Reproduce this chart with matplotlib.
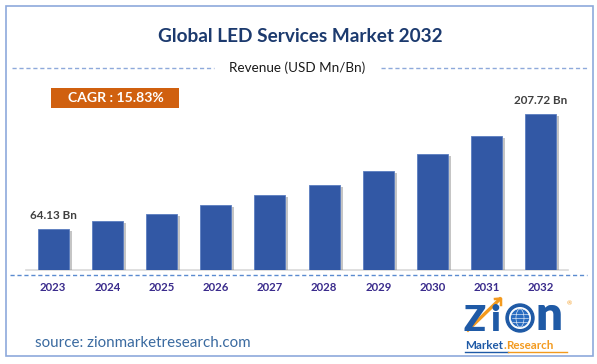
import matplotlib
matplotlib.use("Agg")
import matplotlib.pyplot as plt
import matplotlib.patheffects as pe
from matplotlib.patches import Rectangle, Ellipse
from matplotlib.lines import Line2D
from matplotlib.text import Annotation

# ---- data ----
years = ["2023", "2024", "2025", "2026", "2027", "2028", "2029", "2030", "2031", "2032"]
revenue = [64.13, 73.4, 82.1, 93.3, 105.8, 118.2, 136.2, 157.4, 179.9, 207.72]
first_label = "64.13 Bn"
last_label = "207.72 Bn"
title = "Global LED Services Market 2032"
subtitle = "Revenue (USD Mn/Bn)"
cagr_text = "CAGR : 15.83%"
source_text = "source: zionmarketresearch.com"

W, H = 597, 364
plt.rcParams['font.family'] = ['Lato', 'DejaVu Sans']

fig = plt.figure(figsize=(W / 100, H / 100), dpi=100)
fig.patch.set_facecolor("white")


def fx(x):
    return x / W


def fy(y):
    return 1 - y / H


# outer border
fig.add_artist(Rectangle((fx(6), fy(356)), fx(593) - fx(6), fy(6) - fy(356),
                         transform=fig.transFigure, fill=False,
                         edgecolor="#8EA9DB", linewidth=1.2))

# title / subtitle
fig.text(fx(300), fy(37), title, ha="center", va="center", fontsize=13.7,
         fontweight="bold", color="#1C3A6E")
fig.text(fx(297), fy(68), subtitle, ha="center", va="center", fontsize=9.7,
         color="#1a1a1a")
dash_kw = dict(transform=fig.transFigure, color="#8EA9DB", linewidth=1,
               linestyle=(0, (3, 2)))
fig.add_artist(Line2D([fx(12), fx(214)], [fy(68), fy(68)], **dash_kw))
fig.add_artist(Line2D([fx(381), fx(588)], [fy(68), fy(68)], **dash_kw))

# CAGR box
fig.add_artist(Rectangle((fx(51), fy(108)), fx(179) - fx(51), fy(88) - fy(108),
                         transform=fig.transFigure, facecolor="#D0600F",
                         edgecolor="none"))
fig.text(fx(116), fy(98.5), cagr_text, ha="center", va="center", fontsize=10.1,
         fontweight="bold", color="white")

# axes with bars
y_bottom = 12.56
units_per_px = 1.2486
ax_top_px, ax_bot_px = 100, 270
ax = fig.add_axes([fx(26), fy(ax_bot_px), fx(568) - fx(26), fy(ax_top_px) - fy(ax_bot_px)])
ax.set_facecolor("none")
x = list(range(len(years)))
bars = ax.bar(x, revenue, width=0.57, color="#3258A5", edgecolor="#5A7DC0",
              linewidth=0.6, zorder=3)
for b in bars:
    b.set_path_effects([pe.SimplePatchShadow(offset=(2.2, -1.5),
                                             shadow_rgbFace="#7f7f7f", alpha=0.45),
                        pe.Normal()])
ax.set_xlim(-0.5, len(years) - 0.5)
ax.set_ylim(y_bottom, y_bottom + (ax_bot_px - ax_top_px) * units_per_px)
for s in ["top", "left", "right"]:
    ax.spines[s].set_visible(False)
ax.spines["bottom"].set_color("#D9D9D9")
ax.spines["bottom"].set_linewidth(1.2)
ax.set_yticks([])
ax.set_xticks(x)
ax.set_xticklabels(years, fontsize=8.2, fontweight="bold", color="#3A2B8C")
ax.tick_params(axis="x", length=0, pad=8.5)

ax.annotate(first_label, (0, revenue[0]), xytext=(0, 9.5), textcoords="offset points",
            ha="center", va="center", fontsize=8.4, fontweight="bold", color="#404040")
ax.annotate(last_label, (len(years) - 1, revenue[-1]), xytext=(0, 9.5),
            textcoords="offset points", ha="center", va="center", fontsize=8.4,
            fontweight="bold", color="#404040")

# dashed line under axis
fig.add_artist(Line2D([fx(10), fx(587)], [fy(275), fy(275)],
                      transform=fig.transFigure, color="#5B8BD0", linewidth=1,
                      linestyle=(0, (3, 2))))

# source
fig.text(fx(35), fy(343), source_text, ha="left", va="center", fontsize=10.9,
         color="#3A6AA0")

# logo
blue = "#1F5AA6"
orange = "#F39A1E"
fig.text(fx(464), fy(331), "Z", ha="left", va="baseline", fontsize=26,
         fontweight="heavy", color=blue)
fig.text(fx(491), fy(331), "i", ha="left", va="baseline", fontsize=26,
         fontweight="heavy", color=blue)
fig.add_artist(Line2D([fx(468), fx(500)], [fy(330), fy(299)], transform=fig.transFigure,
                      color=orange, linewidth=2.4))
fig.add_artist(Line2D([fx(495), fx(501), fx(501)], [fy(299), fy(298.5), fy(305)],
                      transform=fig.transFigure, color=orange, linewidth=1.8))
gx, gy, gr = 520, 318, 14
fig.add_artist(Ellipse((fx(gx), fy(gy)), 2 * gr / W, 2 * gr / H, transform=fig.transFigure,
                       facecolor=blue, edgecolor=blue))
fig.add_artist(Ellipse((fx(gx), fy(gy)), 2 * (gr - 3) / W, 2 * (gr - 3) / H,
                       transform=fig.transFigure, facecolor="white", edgecolor="none"))
fig.add_artist(Ellipse((fx(gx), fy(gy)), 2 * (gr - 4.5) / W, 2 * (gr - 4.5) / H,
                       transform=fig.transFigure, facecolor="#2A6CC0", edgecolor="white",
                       linewidth=0.5))
for dy in (-4, 0, 4):
    fig.add_artist(Line2D([fx(gx - 8), fx(gx + 8)], [fy(gy + dy), fy(gy + dy)],
                          transform=fig.transFigure, color="white", linewidth=0.4))
fig.add_artist(Ellipse((fx(gx), fy(gy)), 8 / W, 18 / H, transform=fig.transFigure,
                       facecolor="none", edgecolor="white", linewidth=0.4))
fig.text(fx(535), fy(330), "n", ha="left", va="baseline", fontsize=34,
         fontweight="heavy", color=blue)
fig.text(fx(567), fy(304), "®", ha="left", va="center", fontsize=4.5, color=orange)
t1 = fig.text(fx(465), fy(349), "Market", ha="left", va="baseline", fontsize=8.4,
              fontweight="bold", color=blue)
a2 = fig.add_artist(Annotation(".", xy=(1, 0), xycoords=t1,
                               xytext=(0.3, 0), textcoords="offset points",
                               va="bottom", ha="left", fontsize=8.4,
                               fontweight="bold", color=orange))
fig.add_artist(Annotation("Research", xy=(1, 0), xycoords=a2,
                          xytext=(0.3, 0), textcoords="offset points",
                          va="bottom", ha="left", fontsize=8.4,
                          fontweight="bold", color=orange))
fig.add_artist(Line2D([fx(465), fx(508)], [fy(352), fy(352)], transform=fig.transFigure,
                      color=blue, linewidth=1))
fig.add_artist(Line2D([fx(508), fx(567)], [fy(352), fy(352)], transform=fig.transFigure,
                      color=orange, linewidth=1))

fig.savefig("out.png", dpi=100, facecolor="white")
